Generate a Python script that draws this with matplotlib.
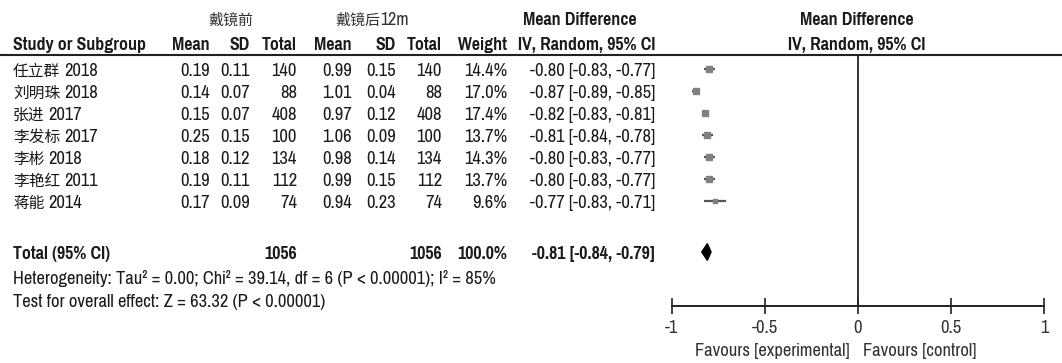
import matplotlib
matplotlib.use('Agg')
import matplotlib.pyplot as plt
from matplotlib.patches import Polygon
import numpy as np

LAT = ['Pragati Narrow', 'Noto Sans CJK SC', 'DejaVu Sans']
CJK = ['Noto Sans CJK SC', 'DejaVu Sans']
plt.rcParams['font.family'] = LAT

# ---------------- data ----------------
studies = ['任立群 2018', '刘明珠 2018', '张进 2017', '李发标 2017', '李彬 2018', '李艳红 2011', '蒋能 2014']
exp_mean = [0.19, 0.14, 0.15, 0.25, 0.18, 0.19, 0.17]
exp_sd = [0.11, 0.07, 0.07, 0.15, 0.12, 0.11, 0.09]
exp_n = [140, 88, 408, 100, 134, 112, 74]
ctl_mean = [0.99, 1.01, 0.97, 1.06, 0.98, 0.99, 0.94]
ctl_sd = [0.15, 0.04, 0.12, 0.09, 0.14, 0.15, 0.23]
ctl_n = [140, 88, 408, 100, 134, 112, 74]
weights = [14.4, 17.0, 17.4, 13.7, 14.3, 13.7, 9.6]
md = [-0.80, -0.87, -0.82, -0.81, -0.80, -0.80, -0.77]
ci_lo = [-0.83, -0.89, -0.83, -0.84, -0.83, -0.83, -0.83]
ci_hi = [-0.77, -0.85, -0.81, -0.78, -0.77, -0.77, -0.71]
total_md, total_lo, total_hi = -0.81, -0.84, -0.79
total_n_exp, total_n_ctl = 1056, 1056
total_weight = 100.0
xticks = [-1, -0.5, 0, 0.5, 1]
xticklabels = ['-1', '-0.5', '0', '0.5', '1']
group_exp = ('戴镜前', '')
group_ctl = ('戴镜后', '12m')
heterogeneity = 'Heterogeneity: Tau² = 0.00; Chi² = 39.14, df = 6 (P < 0.00001); I² = 85%'
overall = 'Test for overall effect: Z = 63.32 (P < 0.00001)'

# ---------------- layout ----------------
W, H = 1062, 363
fig = plt.figure(figsize=(W / 100, H / 100), dpi=100)
top_px, bot_px = 55, 306
row0, step = 69, 22
def ypos(p):
    return (p - row0) / step
ylim = (ypos(bot_px), ypos(top_px))
b = 1 - bot_px / H
h = (bot_px - top_px) / H

ax_t = fig.add_axes([0, b, 1, h])
ax_t.set_xlim(0, W)
ax_t.set_ylim(*ylim)
ax_t.axis('off')

fl, fr = 672, 1044
ax = fig.add_axes([fl / W, b, (fr - fl) / W, h])
ax.set_xlim(-1, 1)
ax.set_ylim(*ylim)
ax.patch.set_alpha(0)
for s in ['top', 'left', 'right']:
    ax.spines[s].set_visible(False)
ax.spines['bottom'].set_linewidth(1.4)
ax.spines['bottom'].set_color('#222222')
ax.set_yticks([])
ax.set_xticks(xticks)
ax.set_xticklabels(xticklabels)
fs = 14.5
fsb = 14.0
fs_cjk = 11.3
ax.tick_params(axis='x', direction='inout', length=12, width=1.2, colors='#222222',
               labelsize=fs, labelcolor='#333333', pad=4)

tc = '#1a1a1a'
bl = 0.3  # baseline offset (rows)
hdr_y1 = ypos(18) + bl
hdr_y2 = ypos(43) + bl

renderer = fig.canvas.get_renderer()

def mixed(x, y, cjk, lat, weight='normal', ha='left', color=tc, cjk_size=fs_cjk, lat_size=fs, gap=0):
    t1 = ax_t.text(0, y, cjk, ha='left', va='baseline', fontsize=cjk_size, family=CJK,
                   fontweight=weight, color=color)
    w1 = t1.get_window_extent(renderer).width
    w2 = 0
    t2 = None
    if lat:
        t2 = ax_t.text(0, y, lat, ha='left', va='baseline', fontsize=lat_size, family=LAT,
                       fontweight=weight, color=color)
        w2 = t2.get_window_extent(renderer).width
    total = w1 + w2 + (gap if lat else 0)
    x0 = x if ha == 'left' else x - total / 2
    t1.set_x(x0)
    if t2 is not None:
        t2.set_x(x0 + w1 + gap)

# header line
ax_t.plot([0, W], [ylim[1], ylim[1]], color='#222222', lw=1.5, clip_on=False)

# group headers
mixed(231, hdr_y1, group_exp[0], group_exp[1], ha='center', color='#333333', cjk_size=10.8)
mixed(372, hdr_y1, group_ctl[0], group_ctl[1], ha='center', color='#333333', cjk_size=10.8,
      lat_size=fsb)
ax_t.text(580, hdr_y1, 'Mean Difference', ha='center', va='baseline', fontsize=fsb, fontweight='bold', color=tc)
ax_t.text(857, hdr_y1, 'Mean Difference', ha='center', va='baseline', fontsize=fsb, fontweight='bold', color=tc)

cx = dict(study=13, m1=210, s1=250, n1=297, m2=352, s2=396, n2=442, w=507, ci=655)
cols = [(cx['study'], 'left', 'Study or Subgroup'), (cx['m1'], 'right', 'Mean'), (cx['s1'], 'right', 'SD'),
        (cx['n1'], 'right', 'Total'), (cx['m2'], 'right', 'Mean'), (cx['s2'], 'right', 'SD'),
        (cx['n2'], 'right', 'Total'), (cx['w'], 'right', 'Weight'), (cx['ci'], 'right', 'IV, Random, 95% CI'),
        (857, 'center', 'IV, Random, 95% CI')]
for x, ha, t in cols:
    ax_t.text(x, hdr_y2, t, ha=ha, va='baseline', fontsize=fsb, fontweight='bold', color=tc)

# study rows
for i, name in enumerate(studies):
    cjk, year = name.split(' ')
    y = i + bl
    mixed(cx['study'], y, cjk, year, gap=4)
    vals = [(cx['m1'], f'{exp_mean[i]:.2f}'), (cx['s1'], f'{exp_sd[i]:.2f}'),
            (cx['n1'], f'{exp_n[i]}'), (cx['m2'], f'{ctl_mean[i]:.2f}'),
            (cx['s2'], f'{ctl_sd[i]:.2f}'), (cx['n2'], f'{ctl_n[i]}'),
            (cx['w'], f'{weights[i]:.1f}%'),
            (cx['ci'], f'{md[i]:.2f} [{ci_lo[i]:.2f}, {ci_hi[i]:.2f}]')]
    for x, t in vals:
        ax_t.text(x, y, t, ha='right', va='baseline', fontsize=fs, color=tc)

# total row
ty = ypos(252)
for x, ha, t in [(cx['study'], 'left', 'Total (95% CI)'), (cx['n1'], 'right', f'{total_n_exp}'),
                 (cx['n2'], 'right', f'{total_n_ctl}'), (cx['w'], 'right', f'{total_weight:.1f}%'),
                 (cx['ci'], 'right', f'{total_md:.2f} [{total_lo:.2f}, {total_hi:.2f}]')]:
    ax_t.text(x, ty + bl, t, ha=ha, va='baseline', fontsize=fsb, fontweight='bold', color=tc)

ax_t.text(cx['study'], ypos(277) + bl, heterogeneity, ha='left', va='baseline', fontsize=fs, color=tc)
ax_t.text(cx['study'], ypos(300) + bl, overall, ha='left', va='baseline', fontsize=fs, color=tc)

# favours labels
ax.text(-0.043, ypos(349) + bl, 'Favours [experimental]', ha='right', va='baseline', fontsize=fs, color='#333333')
ax.text(0.027, ypos(349) + bl, 'Favours [control]', ha='left', va='baseline', fontsize=fs, color='#333333')

# forest marks
ax.axvline(0, color='#222222', lw=1.3)
rows = np.arange(len(studies))
ax.hlines(rows, ci_lo, ci_hi, color='#555555', lw=1.6)
for i in rows:
    ax.plot(md[i], i, marker='s', ms=1.15 * np.sqrt(weights[i]), color='#808080', mec='#808080')

dh = 0.38
diamond = Polygon([[total_lo, ty], [total_md, ty - dh], [total_hi, ty], [total_md, ty + dh]],
                  closed=True, color='black')
ax.add_patch(diamond)

fig.savefig('out.png', dpi=100)
